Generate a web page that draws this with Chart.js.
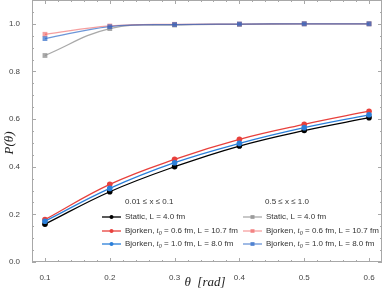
<!DOCTYPE html>
<html>
<head>
<meta charset="utf-8">
<script src="https://cdn.jsdelivr.net/npm/chart.js@4"></script>
<style>
  html, body { margin: 0; padding: 0; background: #fff; }
  #wrap { width: 382px; height: 292px; }
</style>
</head>
<body>
<div id="wrap"><canvas id="grafico"></canvas></div>
<script>
// valores
const theta = [0.1, 0.2, 0.3, 0.4, 0.5, 0.6];

// 0.01 <= x <= 0.1 (circulos)
const staticLow  = [0.159, 0.295, 0.400, 0.487, 0.552, 0.606];
const bj06Low    = [0.178, 0.326, 0.431, 0.515, 0.578, 0.633];
const bj10Low    = [0.171, 0.309, 0.417, 0.498, 0.564, 0.618];

// 0.5 <= x <= 1.0 (cuadrados)
const staticHigh = [0.867, 0.980, 0.995, 0.998, 1.000, 1.000];
const bj06High   = [0.956, 0.991, 0.998, 0.999, 1.000, 1.000];
const bj10High   = [0.938, 0.988, 0.997, 0.999, 1.000, 1.000];

const xTickLabels = [0.1, 0.2, 0.3, 0.4, 0.5, 0.6];
const yTickLabels = [0.0, 0.2, 0.4, 0.6, 0.8, 1.0];

const colNegro = '#000000';
const colRojo = '#e8403c';
const colAzul = '#2b7fd9';
const colGrisA = 'rgba(140,140,140,0.75)';
const colRojoA = 'rgba(236,80,80,0.55)';
const colAzulA = 'rgba(45,105,200,0.7)';

function puntos(vals){
    return theta.map(function(t, i){ return {x: t, y: vals[i]}; });
}

function serie(label, vals, color, estilo, orden){
    return {
        label: label,
        data: puntos(vals),
        borderColor: color,
        backgroundColor: color,
        borderWidth: 1.3,
        pointStyle: estilo,
        pointRadius: estilo == 'rect' ? 3.4 : 2.8,
        pointBorderWidth: 0,
        tension: 0.4,
        order: orden,
        fill: false
    };
}

function sinPadding(s){
    s.paddingTop = 0;
    s.paddingBottom = 0;
    s.paddingLeft = 0;
    s.paddingRight = 0;
}

const leyenda = {
    id: 'marco',
    afterDraw(chart){
        const ctx = chart.ctx;
        const a = chart.chartArea;
        const xs = chart.scales.x;
        const ys = chart.scales.y;
        ctx.save();

        // marco
        ctx.strokeStyle = '#a8a8a8';
        ctx.lineWidth = 1;
        ctx.strokeRect(a.left + 0.5, a.top + 0.5, a.right - a.left - 1, a.bottom - a.top - 1);

        // ticks hacia adentro
        ctx.beginPath();
        for (let i = 0; i <= 27; i++) {
            const v = 0.08 + i * 0.02;
            const px = Math.round(xs.getPixelForValue(v)) + 0.5;
            const mayor = Math.abs(v * 10 - Math.round(v * 10)) < 1e-6;
            const len = mayor ? 4 : 2;
            ctx.moveTo(px, a.bottom); ctx.lineTo(px, a.bottom - len);
            ctx.moveTo(px, a.top); ctx.lineTo(px, a.top + len);
        }
        for (let i = 0; i <= 22; i++) {
            const v = i * 0.05;
            const py = Math.round(ys.getPixelForValue(v)) + 0.5;
            const mayor = i % 4 == 0;
            const len = mayor ? 4 : 2;
            ctx.moveTo(a.left, py); ctx.lineTo(a.left + len, py);
            ctx.moveTo(a.right, py); ctx.lineTo(a.right - len, py);
        }
        ctx.stroke();

        // leyenda
        ctx.font = '8px "Liberation Sans", Arial, sans-serif';
        ctx.fillStyle = '#333';
        ctx.textBaseline = 'middle';
        ctx.textAlign = 'left';
        ctx.fillText('0.01 \u2264 x \u2264 0.1', 125, 202);
        ctx.fillText('0.5 \u2264 x \u2264 1.0', 265, 202);

        const filas = [217, 231, 244];
        const items = [
            [chart.data.datasets[0], 102, filas[0]],
            [chart.data.datasets[1], 102, filas[1]],
            [chart.data.datasets[2], 102, filas[2]],
            [chart.data.datasets[3], 243, filas[0]],
            [chart.data.datasets[4], 243, filas[1]],
            [chart.data.datasets[5], 243, filas[2]]
        ];
        items.forEach(function(it){
            const ds = it[0], x0 = it[1], y0 = it[2];
            ctx.strokeStyle = ds.borderColor;
            ctx.lineWidth = 1.3;
            ctx.beginPath();
            ctx.moveTo(x0, y0); ctx.lineTo(x0 + 19, y0);
            ctx.stroke();
            ctx.fillStyle = ds.borderColor;
            if (ds.pointStyle == 'rect') {
                ctx.fillRect(x0 + 7.5, y0 - 2, 4, 4);
            } else {
                ctx.beginPath();
                ctx.arc(x0 + 9.5, y0, 2, 0, Math.PI * 2);
                ctx.fill();
            }
            // texto con subindice
            ctx.fillStyle = '#333';
            let tx = x0 + 23;
            const partes = ds.label.split('|');
            ctx.font = '8px "Liberation Sans", Arial, sans-serif';
            ctx.fillText(partes[0], tx, y0);
            if (partes.length > 1) {
                tx += ctx.measureText(partes[0]).width;
                ctx.font = 'italic 8px "Liberation Serif", serif';
                ctx.fillText('t', tx, y0);
                tx += ctx.measureText('t').width;
                ctx.font = 'italic 6px "Liberation Serif", serif';
                ctx.fillText('0', tx, y0 + 2);
                tx += ctx.measureText('0').width;
                ctx.font = '8px "Liberation Sans", Arial, sans-serif';
                ctx.fillText(partes[1], tx, y0);
            }
        });

        // titulos de ejes
        ctx.fillStyle = '#222';
        ctx.font = 'italic 13px "Liberation Serif", serif';
        ctx.textAlign = 'center';
        ctx.textBaseline = 'middle';
        ctx.fillText('\u03b8  [rad]', 205, 283);

        ctx.translate(10, 143);
        ctx.rotate(-Math.PI / 2);
        ctx.fillText('P(\u03b8)', 0, 0);
        ctx.restore();
    }
};

new Chart(document.getElementById('grafico'), {
    type: 'line',
    data: {
        datasets: [
            serie('Static, L = 4.0 fm', staticLow, colNegro, 'circle', 5),
            serie('Bjorken, | = 0.6 fm, L = 10.7 fm', bj06Low, colRojo, 'circle', 4),
            serie('Bjorken, | = 1.0 fm, L = 8.0 fm', bj10Low, colAzul, 'circle', 3),
            serie('Static, L = 4.0 fm', staticHigh, colGrisA, 'rect', 2),
            serie('Bjorken, | = 0.6 fm, L = 10.7 fm', bj06High, colRojoA, 'rect', 1),
            serie('Bjorken, | = 1.0 fm, L = 8.0 fm', bj10High, colAzulA, 'rect', 0)
        ]
    },
    options: {
        responsive: true,
        maintainAspectRatio: false,
        animation: false,
        layout: { autoPadding: false, padding: 0 },
        plugins: {
            legend: { display: false },
            tooltip: { enabled: false },
            title: { display: false }
        },
        scales: {
            x: {
                type: 'linear',
                min: 0.08,
                max: 0.62,
                grid: { display: false },
                border: { display: false },
                afterBuildTicks: function(s){ s.ticks = xTickLabels.map(function(v){ return {value: v}; }); },
                afterFit: function(s){ s.height = 30; sinPadding(s); },
                ticks: {
                    padding: 3,
                    color: '#444',
                    font: { family: '"Liberation Sans", Arial, sans-serif', size: 8 },
                    maxRotation: 0,
                    callback: function(v){ return v.toFixed(1); }
                }
            },
            y: {
                min: 0,
                max: 1.1,
                grid: { display: false },
                border: { display: false },
                afterBuildTicks: function(s){ s.ticks = yTickLabels.map(function(v){ return {value: v}; }); },
                afterFit: function(s){ s.width = 32; sinPadding(s); },
                ticks: {
                    padding: 4,
                    color: '#444',
                    font: { family: '"Liberation Sans", Arial, sans-serif', size: 8 },
                    callback: function(v){ return v.toFixed(1); }
                }
            }
        }
    },
    plugins: [leyenda]
});
</script>
</body>
</html>
